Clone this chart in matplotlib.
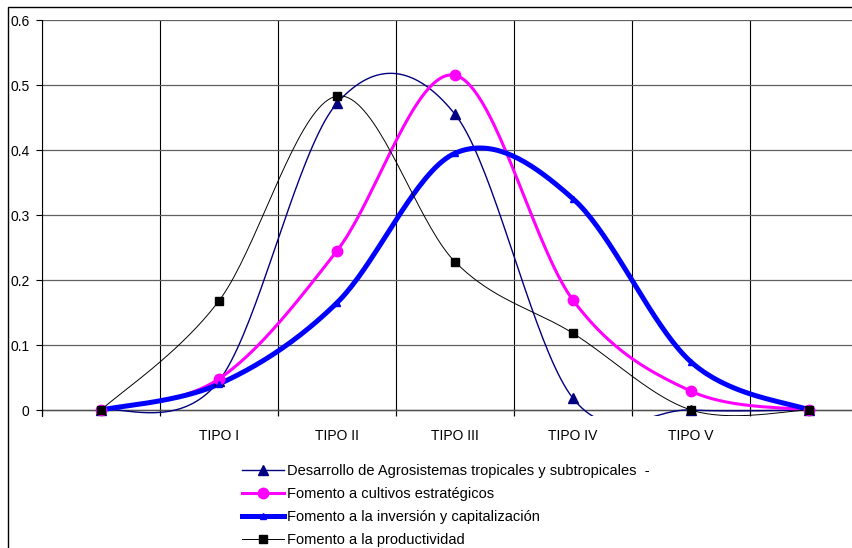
import matplotlib

matplotlib.use("Agg")
import matplotlib.pyplot as plt
import numpy as np
from matplotlib.patches import Rectangle
from matplotlib.ticker import FuncFormatter, MultipleLocator

plt.rcParams["font.family"] = ["Liberation Sans", "DejaVu Sans"]

CATEGORIES = ["", "TIPO I", "TIPO II", "TIPO III", "TIPO IV", "TIPO V", ""]

DESARROLLO = [0.0, 0.045, 0.472, 0.455, 0.018, 0.0, 0.0]
CULTIVOS = [0.0, 0.048, 0.245, 0.515, 0.169, 0.029, 0.0]
INVERSION = [0.0, 0.040, 0.165, 0.395, 0.325, 0.074, 0.0]
PRODUCTIVIDAD = [0.0, 0.168, 0.483, 0.228, 0.118, 0.0, 0.0]

LABELS = [
    "Desarrollo de Agrosistemas tropicales y subtropicales  -",
    "Fomento a cultivos estratégicos",
    "Fomento a la inversión y capitalización",
    "Fomento a la productividad",
]


def smooth(xs, ys, steps=40):
    # Excel-style smoothing: Catmull-Rom turned into cubic Bezier segments
    p = np.column_stack([xs, ys]).astype(float)
    p = np.vstack([p[:1], p, p[-1:]])
    out = []
    t = np.linspace(0, 1, steps)[:, None]
    for i in range(1, len(p) - 2):
        b0 = p[i]
        b1 = p[i] + (p[i + 1] - p[i - 1]) / 6
        b2 = p[i + 1] - (p[i + 2] - p[i]) / 6
        b3 = p[i + 1]
        seg = ((1 - t) ** 3 * b0 + 3 * (1 - t) ** 2 * t * b1
               + 3 * (1 - t) * t ** 2 * b2 + t ** 3 * b3)
        out.append(seg if i == 1 else seg[1:])
    curve = np.vstack(out)
    return curve[:, 0], curve[:, 1]


W, H = 853, 548
fig = plt.figure(figsize=(W / 100, H / 100), dpi=100)
ax = fig.add_axes([42 / W, 1 - 416 / H, 826 / W, 396 / H])

x = np.arange(len(CATEGORIES))
styles = [
    (DESARROLLO, dict(color="#000080", lw=1.0), dict(marker="^", ms=7.5)),
    (CULTIVOS, dict(color="#FF00FF", lw=2.2), dict(marker="o", ms=7.5)),
    (INVERSION, dict(color="#0000FF", lw=3.6), dict(marker="^", ms=4.5)),
    (PRODUCTIVIDAD, dict(color="#000000", lw=0.7), dict(marker="s", ms=6)),
]
handles = []
for (vals, line_kw, mark_kw), label in zip(styles, LABELS):
    sx, sy = smooth(x, vals)
    ax.plot(sx, sy, solid_capstyle="round", zorder=3, **line_kw)
    ax.plot(x, vals, ls="none", color=line_kw["color"], zorder=4, **mark_kw)
    h, = ax.plot([], [], label=label, **line_kw, **mark_kw)
    handles.append(h)

ax.set_xlim(-0.5, 6.5)
ax.set_ylim(-0.0092, 0.6)

ax.set_xticks(x)
ax.set_xticklabels(CATEGORIES)
ax.xaxis.set_minor_locator(MultipleLocator(1, offset=0.5))
ax.tick_params(axis="x", which="major", length=0, pad=9, labelsize=10)
ax.tick_params(axis="x", which="minor", length=6, direction="in", width=0.8)
ax.grid(axis="x", which="minor", color="black", lw=0.8)

ax.set_yticks(np.arange(0, 0.61, 0.1))
ax.yaxis.set_major_formatter(FuncFormatter(lambda v, _: f"{v:.1f}".rstrip("0").rstrip(".") if v else "0"))
ax.tick_params(axis="y", length=4, width=0.8, pad=5, labelsize=10)
ax.grid(axis="y", color="#606060", lw=0.9)
ax.axhline(0, color="#505050", lw=1.0, zorder=2)

for side in ("top", "right", "bottom"):
    ax.spines[side].set_visible(False)
ax.spines["left"].set_linewidth(0.8)
ax.set_axisbelow(True)

fig.legend(handles=handles, loc="upper left", bbox_to_anchor=(242 / W, 1 - 464 / H),
           frameon=False, fontsize=10.5, handlelength=2.9, handletextpad=0.2,
           labelspacing=0.62, borderpad=0, borderaxespad=0)

fig.add_artist(Rectangle((8 / W, -0.1), 1.5, (H - 7) / H + 0.1, transform=fig.transFigure,
                         fill=False, ec="black", lw=1.0))

fig.savefig("out.png", dpi=100)
